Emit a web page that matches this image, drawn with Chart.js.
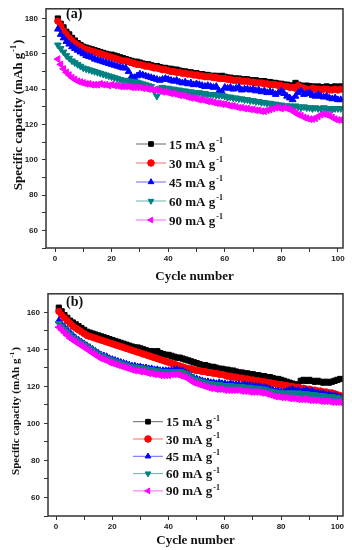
<!DOCTYPE html>
<html>
<head>
<meta charset="utf-8">
<script src="https://cdn.jsdelivr.net/npm/chart.js@4.4.1/dist/chart.umd.min.js"></script>
<style>
html, body { margin: 0; padding: 0; background: #fff; }
canvas { position: absolute; left: 0; display: block; }
#ca { top: 0; }
#cb { top: 285px; }
</style>
</head>
<body>
<canvas id="ca" width="352" height="285"></canvas>
<canvas id="cb" width="352" height="265"></canvas>
<script>
// cycle index (x) and tick positions
var cycles = Array.from({ length: 101 }, function (_, i) { return i + 1 })
var xTicks = [0, 10, 20, 30, 40, 50, 60, 70, 80, 90, 100]
var yTicksA = [50, 60, 70, 80, 90, 100, 110, 120, 130, 140, 150, 160, 170, 180]
var yTicksB = [50, 60, 70, 80, 90, 100, 110, 120, 130, 140, 150, 160]

var labels = ['15 mA g', '30 mA g', '45 mA g', '60 mA g', '90 mA g']

// panel (a)
var a15 = [180,177,175,172.5,171,169,167.5,166,165,164,
163.5,163,162.5,162,161.5,161,160.5,160,159.5,159.5,
159,158.5,158,157.5,157,156.5,156,155.5,155.5,155,
154.5,154,154,153.5,153,153,152.5,152,152,151.5,
151.5,151,151,150.5,150,150,149.5,149.5,149,149,
148.5,148.5,148,148,147.5,147.5,147.5,147,147.5,147,
146.5,146.5,146,146,146,145.5,145.5,145.5,145,145,
145,144.5,144.5,144.5,144,144,143.5,143.5,143,143,
142.5,142.5,142,142,143.5,142.5,142,141.5,142,141.5,
141.5,141,141.5,141,141,141.5,141,141,141.5,141,141.5]
var a30 = [178.5,176,173,171,169,167.5,166,165,164,163,
162.5,162,161.5,161,160.5,160,159.5,159,158.5,158,
157.5,157,156.5,156,156,155.5,155,154.5,154,154,
153.5,153,153,152.5,152,152,151.5,151,151,150.5,
150,150,149.5,149.5,149,149,148.5,148.5,148,148,
147.5,147.5,147,147,147,146.5,146.5,146,146,146,
145.5,145.5,145,145,145,144.5,144.5,144.5,144,144,
143.5,143.5,143.5,143,143,142.5,142.5,142.5,142,142,
141.5,141.5,141,141,140.5,142,141,140.5,140,139.5,
140.5,140,140,139.5,140,140,139.5,139.5,140,139.5,140]
var a45 = [174,171,169,167,165.5,164,163,162,161,160,
159,158.5,158,157,156.5,156,155.5,155,154.5,154,
153.5,153,152.5,152,152,150,147,146.5,147.5,148.5,
148,147.5,147,146.5,146,145.5,145,145.5,146,145.5,
145,144.5,145,144,143.5,144,143,143.5,142.5,143,
142.5,142,141.5,142,141.5,141,141.5,139,138.5,141,
140.5,141,140,140.5,141,139.5,140,140,139.5,140,
139,139.5,138.5,139,138,138.5,138,137,138,139,
137.5,136,135,134,136,138,139,137,137.5,138,
136.5,136,137,136,135.5,136,135,134.5,135,134,134]
var a60 = [165,163,161,159,157.5,156,155,154,153,152,
151.5,151,150.5,150,149.5,149,148.5,148,147.5,147,
146.5,146,145.5,145,145,144.5,144.5,144,144,143.5,
143,142.5,142,141.5,139,136,140.5,141,140.5,140.5,
140,140,139.5,139.5,139,139,138.5,138.5,138,138,
138,137.5,137.5,137,137,137,136.5,136.5,136.5,136,
135.5,135.5,135,135,134.5,134.5,134,134,133.5,133.5,
133,133,132.5,132.5,132,132,131.5,131.5,131,131,
130.5,130.5,130.5,130,130.5,130,129.5,130,129.5,129.5,
129,129.5,129,129,129.5,129,129,128.5,129,129,129]
var a90 = [157,154,151.5,149.5,148,146.5,145.5,144.5,144,143.5,
143,143,142.5,142.5,142.5,143,142.5,142.5,142,142.5,
142,142,141.5,141.5,141.5,141.5,141,141,141,141,
140.5,140.5,140,140,139.5,139.5,139,138.5,138.5,138,
137.5,137.5,137,136.5,136.5,136,135.5,135,135,134.5,
134,134,133.5,133,133,132.5,132,132,131.5,131.5,
131,130.5,130.5,130,129.5,129.5,129,129,128.5,128.5,
128,128,127.5,127.5,128,128.5,129,129.5,129.5,129,
129.5,129,128.5,127.5,126.5,125.5,125,124,123.5,123,
123,123.5,124.5,125.5,126,125.5,125,124,123,122.5,122.5]

// panel (b)
var b15 = [162.5,160.5,158.5,157,155.5,154.5,153.5,152.5,151.5,150.5,
149.5,149,148.5,148,147.5,147,146.5,146,145.5,145,
144.5,144,143.5,143,142.5,142,141.5,141,141,140.5,
140,139.5,139,139,138.5,139,138,137.5,137,137,
136.5,136,135.5,135.5,135,134.5,134,133.5,133,132.5,
132,131.5,131.5,131,130.5,130.5,130,129.5,129.5,129,
129,128.5,128.5,128,127.5,127.5,127,127,126.5,126.5,
126,126,125.5,125.5,125,125,124.5,124,124,123.5,
123,122.5,122,121.5,121,121,123,123.5,123,123.5,
123,122.5,123,122.5,122,122.5,122,122.5,123,123.5,124]
var b30 = [160.5,158.5,157,155.5,154,152.5,151.5,150.5,149.5,148.5,
147.5,147,146.5,146,145.5,145,144.5,144,143.5,143,
142.5,142,141.5,141,140.5,140,139.5,139,138.5,138,
137.5,137,136.5,136,135.5,135,134.5,134,133.5,133,
132.5,132,131.5,131,130.5,130,129.5,129.5,129,128.5,
128.5,128,128,127.5,127.5,127,127,126.5,126.5,126,
125.5,125.5,125,125,124.5,124.5,124,124,123.5,123.5,
123,123,122.5,122.5,122,122,121.5,121.5,121,121,
120.5,120.5,120,120,119.5,119.5,119,119,118.5,118.5,
118,118,117.5,117.5,117,117,116.5,116.5,116,115.5,115]
var b45 = [155.5,153.5,152,150.5,149,147.5,146,145,144,143,
142,141,140,139,138,137,136.5,136,135,134.5,
134,133.5,133,132.5,132,131.5,131,131,130.5,130.5,
130,130,129.5,129.5,129,129,128.5,128.5,128.5,128.5,
128.5,129,129,128.5,128.5,127.5,126.5,125.5,124.5,124,
123.5,123,122.5,122.5,122,122,121.5,122,121.5,121.5,
121,121.5,121,121,121,120.5,121,120.5,120.5,120,
120,120,119.5,119.5,119,118.5,118,117.5,117.5,117,
117,117.5,118,118.5,117.5,118,117,117.5,118,117,
117.5,116.5,116.5,116,116,115.5,115.5,115,115,114.5,114]
var b60 = [154,152.5,151,149.5,148,146.5,145.5,144.5,143.5,142.5,
141.5,140.5,139.5,138.5,137.5,136.5,136,135,134.5,134,
133.5,133,132.5,132,131.5,131,130.5,130.5,130,130,
129.5,129.5,129,129,128.5,128.5,128,128,128,128,
128,128,128,128,127.5,127,126,125,124,123.5,
123,122.5,122,121.5,121.5,121,121,121,120.5,120.5,
120.5,120.5,120,120,120,120,119.5,119.5,119.5,119,
119,119,118.5,118.5,118,117.5,117,117,116.5,116.5,
116.5,116,116.5,116.5,116,116.5,116,116,116,115.5,
115.5,115.5,115,115,115,114.5,114.5,114.5,114,114,113.5]
var b90 = [152,150.5,149,147.5,146,145,144,143,142,141,
140,139,138,137,136,135,134.5,134,133,132.5,
132,131.5,131,130.5,130,129.5,129,128.5,128.5,128,
128,127.5,127,127,126.5,126.5,126,126,126,126,
126.5,126.5,126.5,126,125.5,125,124,123,122,121.5,
121,120.5,120,119.5,119,119,118.5,118.5,118.5,118,
118,118,118,118,118,117.5,117.5,117.5,117,117,
117,117,116.5,116.5,116,115.5,115,114.5,114.5,114,
114,114,113.5,113.5,113.5,113,113,113,113,112.5,
112.5,112.5,112.5,112,112,112,112,111.5,111.5,111.5,111.5]

var colors = ['#000000', '#ff0000', '#0000ff', '#008080', '#ff00ff']
var styles = ['rect', 'circle', 'triangle', 'triangle', 'triangle']
var rots = [0, 0, 0, 180, 270]
var radii = [3.7, 3.2, 3.9, 3.9, 3.9]

function supText(ctx, main, sup, tail, x, y, size, center) {
    var f1 = 'bold ' + size + 'px "Liberation Serif"'
    var f2 = 'bold ' + Math.round(size * 0.62) + 'px "Liberation Serif"'
    ctx.font = f1
    var w1 = ctx.measureText(main).width
    var w3 = tail ? ctx.measureText(tail).width : 0
    ctx.font = f2
    var w2 = ctx.measureText(sup).width
    var x0 = center ? x - (w1 + w2 + w3 + 2) / 2 : x
    ctx.textAlign = 'left'
    ctx.textBaseline = 'alphabetic'
    ctx.font = f1
    ctx.fillText(main, x0, y)
    ctx.font = f2
    ctx.fillText(sup, x0 + w1 + 1, y - size * 0.42)
    if (tail) {
        ctx.font = f1
        ctx.fillText(tail, x0 + w1 + w2 + 2, y)
    }
}

var deco = {
    id: 'deco',
    afterDatasetsDraw: function (chart, args, o) {
        var ctx = chart.ctx, a = chart.chartArea
        ctx.save()
        // frame
        ctx.strokeStyle = '#333'
        ctx.lineWidth = 1.5
        ctx.strokeRect(a.left, a.top, a.right - a.left, a.bottom - a.top)
        // panel tag
        ctx.fillStyle = '#111'
        ctx.font = 'bold 14px "Liberation Serif"'
        ctx.textAlign = 'left'
        ctx.textBaseline = 'middle'
        ctx.fillText(o.tag, o.tagX, o.tagY)
        // legend
        chart.data.datasets.forEach(function (ds, i) {
            var y = o.legY + i * o.legDy
            ctx.strokeStyle = ds.borderColor
            ctx.globalAlpha = 0.6
            ctx.lineWidth = 1
            ctx.beginPath()
            ctx.moveTo(o.legX, y)
            ctx.lineTo(o.legX + 30, y)
            ctx.stroke()
            ctx.globalAlpha = 1
            ctx.fillStyle = ds.borderColor
            Chart.helpers.drawPoint(ctx, { pointStyle: ds.pointStyle, rotation: ds.pointRotation, radius: 3.3, borderWidth: 1 }, o.legX + 15, y)
            ctx.fillStyle = '#111'
            supText(ctx, ds.label, '-1', '', o.legX + 33, y + 4.5, 13, false)
        })
        // y title
        ctx.translate(o.ytX, o.ytY)
        ctx.rotate(-Math.PI / 2)
        ctx.fillStyle = '#111'
        supText(ctx, 'Specific capacity (mAh g', '-1', ')', 0, 0, o.ytSize, true)
        ctx.restore()
    }
}

Chart.defaults.font.family = 'Liberation Serif'

function build(id, series, p) {
    return new Chart(document.getElementById(id), {
        type: 'line',
        data: {
            datasets: series.map(function (vals, i) {
                return {
                    label: labels[i],
                    data: vals.map(function (v, k) { return { x: cycles[k], y: v } }),
                    borderColor: colors[i],
                    backgroundColor: colors[i],
                    pointBackgroundColor: colors[i],
                    pointBorderColor: colors[i],
                    pointStyle: styles[i],
                    pointRotation: rots[i],
                    pointRadius: radii[i],
                    pointBorderWidth: 1,
                    borderWidth: 1,
                    order: 5 - i
                }
            })
        },
        options: {
            responsive: false,
            animation: false,
            events: [],
            layout: { padding: p.pad },
            plugins: { legend: { display: false }, tooltip: { enabled: false }, deco: p.deco },
            scales: {
                x: {
                    type: 'linear', min: p.xmin, max: p.xmax,
                    afterBuildTicks: function (s) { s.ticks = xTicks.map(function (v) { return { value: v } }) },
                    afterFit: function (s) { s.height = p.xh },
                    ticks: {
                        autoSkip: false, maxRotation: 0, padding: 2, color: '#222',
                        font: { family: 'Liberation Sans', size: 8, weight: 'bold' },
                        callback: function (v) { return v % 20 === 0 ? v : '' }
                    },
                    grid: { drawOnChartArea: false, tickLength: 4, tickColor: '#333', lineWidth: 1 },
                    border: { display: false },
                    title: { display: true, text: 'Cycle number', color: '#111', padding: { top: 0, bottom: p.tpad }, font: { family: 'Liberation Serif', size: 13, weight: 'bold' } }
                },
                y: {
                    min: 50, max: p.ymax,
                    afterBuildTicks: function (s) { s.ticks = p.yt.map(function (v) { return { value: v } }) },
                    afterFit: function (s) { s.width = p.yw },
                    ticks: {
                        autoSkip: false, padding: 4, color: '#222',
                        font: { family: 'Liberation Sans', size: 8, weight: 'bold' },
                        callback: function (v) { return v % 20 === 0 && v > 50 ? v : '' }
                    },
                    grid: { drawOnChartArea: false, tickLength: 4, tickColor: '#333', lineWidth: 1 },
                    border: { display: false }
                }
            }
        },
        plugins: [deco]
    })
}

build('ca', [a15, a30, a45, a60, a90], {
    pad: { top: 4, right: 9, left: 0, bottom: 0 },
    xmin: -3.2, xmax: 101.8, xh: 37, tpad: 1, ymax: 185.5, yt: yTicksA, yw: 46,
    deco: { tag: '(a)', tagX: 66, tagY: 14.5, legX: 136, legY: 144, legDy: 19, ytX: 21.5, ytY: 115, ytSize: 13 }
})

build('cb', [b15, b30, b45, b60, b90], {
    pad: { top: 8, right: 9, left: 0, bottom: 0 },
    xmin: -2.85, xmax: 102, xh: 34, tpad: 2, ymax: 170, yt: yTicksB, yw: 48,
    deco: { tag: '(b)', tagX: 66, tagY: 17.5, legX: 133, legY: 136.7, legDy: 17.3, ytX: 19, ytY: 126, ytSize: 11 }
})
</script>
</body>
</html>
